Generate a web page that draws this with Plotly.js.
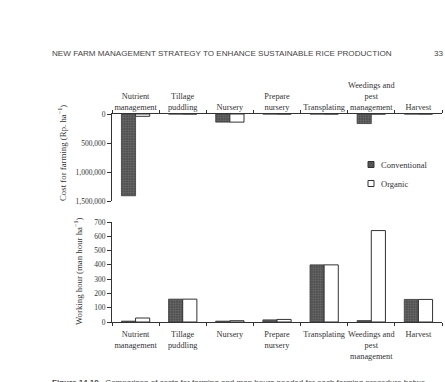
<!DOCTYPE html>
<html>
<head>
<meta charset="utf-8">
<script src="https://cdn.plot.ly/plotly-3.0.1.min.js"></script>
<style>html,body{margin:0;padding:0;background:#fff;}#chart{width:445px;height:382px;}</style>
</head>
<body>
<div id="chart"></div>
<script>
// ---- data ----
const categories = ['Nutrient management','Tillage puddling','Nursery','Prepare nursery','Transplating','Weedings and pest management','Harvest'];
const tickLabels = ['Nutrient<br>management','Tillage<br>puddling','Nursery','Prepare<br>nursery','Transplating','Weedings and<br>pest<br>management','Harvest'];
const costConventional = [1410000, 0, 140000, 0, 0, 165000, 0];
const costOrganic      = [40000, 0, 140000, 0, 0, 0, 0];
const hoursConventional = [6, 160, 6, 15, 400, 10, 158];
const hoursOrganic      = [28, 160, 9, 18, 400, 640, 158];
const costTicks = [0, 500000, 1000000, 1500000];
const seriesNames = ['Conventional', 'Organic'];

const W = 445, H = 382;
const px = x => x / W;
const py = y => 1 - y / H;
const serif = 'Liberation Serif, Times New Roman, serif';
const sans = 'Liberation Sans, Arial, sans-serif';
const ink = '#333';

const convMarker = {color:'#555', line:{color:'#3a3a3a', width:0.8},
  pattern:{shape:'.', fgcolor:'#747474', bgcolor:'#4d4d4d', size:2.5, solidity:0.4, fillmode:'replace'}};
const orgMarker = {color:'#ffffff', line:{color:'#333', width:1}};

const traces = [
  {type:'bar', x:categories, y:costConventional, xaxis:'x', yaxis:'y', marker:convMarker, showlegend:false, name:seriesNames[0]},
  {type:'bar', x:categories, y:costOrganic, xaxis:'x', yaxis:'y', marker:orgMarker, showlegend:false, name:seriesNames[1]},
  {type:'bar', x:categories, y:hoursConventional, xaxis:'x2', yaxis:'y2', marker:convMarker, showlegend:false, name:seriesNames[0]},
  {type:'bar', x:categories, y:hoursOrganic, xaxis:'x2', yaxis:'y2', marker:orgMarker, showlegend:false, name:seriesNames[1]},
  {type:'scatter', mode:'markers', x:[null], y:[null], xaxis:'x', yaxis:'y', name:seriesNames[0], legendgroup:'a',
   marker:{symbol:'square', size:6, color:'#555', line:{color:'#333', width:1}}},
  {type:'scatter', mode:'markers', x:[null], y:[null], xaxis:'x', yaxis:'y', name:seriesNames[1], legendgroup:'b',
   marker:{symbol:'square', size:6, color:'#fff', line:{color:'#333', width:1}}}
];

const xCommon = {
  domain:[px(112), px(442)], type:'category', tickmode:'array', tickvals:categories, ticktext:tickLabels,
  showline:true, linecolor:ink, linewidth:1, ticks:'outside', tickson:'boundaries', ticklen:3, tickcolor:ink,
  tickangle:0, automargin:false,
  showgrid:false, zeroline:false, tickfont:{family:serif, size:8.3, color:ink}, fixedrange:true
};

const layout = {
  width:W, height:H, margin:{l:0,r:0,t:0,b:0},
  paper_bgcolor:'#fff', plot_bgcolor:'rgba(0,0,0,0)',
  barmode:'group', bargap:0.4, bargroupgap:0,
  showlegend:true,
  legend:{x:px(351), y:py(150), xanchor:'left', yanchor:'top', bgcolor:'rgba(0,0,0,0)',
    font:{family:serif, size:8.5, color:ink}, traceorder:'grouped', tracegroupgap:0, itemwidth:30},
  xaxis:Object.assign({}, xCommon, {anchor:'y', side:'top'}),
  xaxis2:Object.assign({}, xCommon, {anchor:'y2', side:'bottom', ticklabelstandoff:4}),
  yaxis:{domain:[py(201), py(114)], range:[1500000, 0], tickvals:costTicks, tickformat:',d',
    showline:true, linecolor:ink, linewidth:1, ticks:'outside', ticklen:4, tickcolor:ink,
    showgrid:false, zeroline:false, tickfont:{family:serif, size:7.5, color:ink}, anchor:'x', fixedrange:true},
  yaxis2:{domain:[py(322), py(222)], range:[0, 700], dtick:100,
    showline:true, linecolor:ink, linewidth:1, ticks:'outside', ticklen:4, tickcolor:ink,
    showgrid:false, zeroline:false, tickfont:{family:serif, size:7.5, color:ink}, anchor:'x2', fixedrange:true},
  annotations:[
    {text:'NEW FARM MANAGEMENT STRATEGY TO ENHANCE SUSTAINABLE RICE PRODUCTION', xref:'paper', yref:'paper',
     x:px(50), y:py(54), xanchor:'left', yanchor:'middle', showarrow:false,
     font:{family:sans, size:8.1, color:'#444'}},
    {text:'33', xref:'paper', yref:'paper', x:px(446), y:py(54), xanchor:'right', yanchor:'middle', showarrow:false,
     font:{family:sans, size:8.1, color:'#444'}},
    {text:'Cost for farming (Rp. ha<sup>−1</sup>)', xref:'paper', yref:'paper', x:px(62), y:py(153),
     xanchor:'center', yanchor:'middle', textangle:-90, showarrow:false, font:{family:serif, size:8.8, color:ink}},
    {text:'Working hour (man hour ha<sup>−1</sup>)', xref:'paper', yref:'paper', x:px(78), y:py(271),
     xanchor:'center', yanchor:'middle', textangle:-90, showarrow:false, font:{family:serif, size:8.8, color:ink}},
    {text:'<b>Figure 14.10</b>   Comparison of costs for farming and man hours needed for each farming procedure betwe',
     xref:'paper', yref:'paper', x:px(50), y:py(376), xanchor:'left', yanchor:'top', showarrow:false,
     font:{family:sans, size:8, color:'#444'}}
  ]
};

Plotly.newPlot('chart', traces, layout, {staticPlot:true, displayModeBar:false}).then(function(gd){
  // tighten gap between legend symbol and label, as in the reference
  gd.querySelectorAll('.legendtext').forEach(function(t){ t.setAttribute('x', 30); });
});
</script>
</body>
</html>
